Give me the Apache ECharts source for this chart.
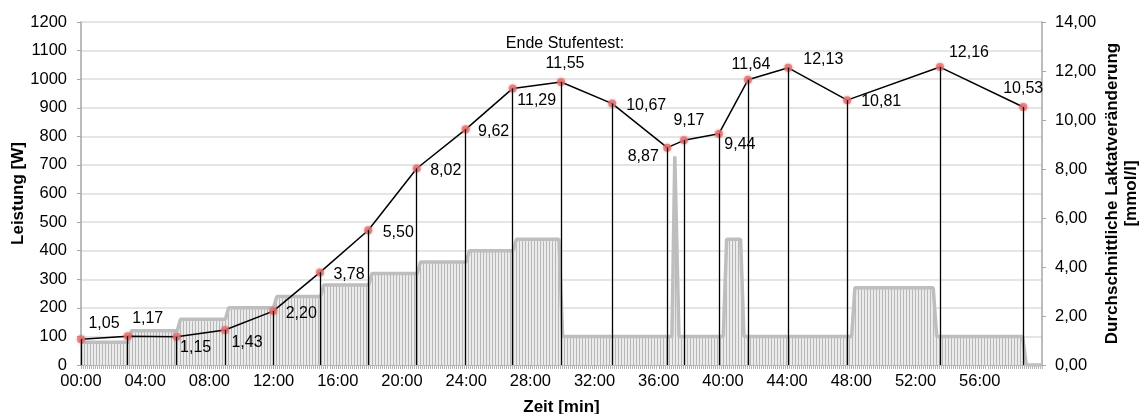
<!DOCTYPE html>
<html>
<head>
<meta charset="utf-8">
<script src="https://cdn.jsdelivr.net/npm/echarts@6/dist/echarts.min.js"></script>
<style>
  html, body { margin: 0; padding: 0; background: #fff; }
  #chart { width: 1141px; height: 414px; }
</style>
</head>
<body>
<div id="chart"></div>
<script>
// Power profile of the test (time in minutes, power in watts)
const powerMin = [0, 2.95, 3.15, 6.0, 6.2, 9.0, 9.2, 12.0, 12.2, 14.93, 15.13, 17.93, 18.13,
  20.95, 21.15, 24.0, 24.2, 26.93, 27.13, 29.78, 30.01, 36.82, 37.0, 37.1, 37.26,
  40.02, 40.23, 41.1, 41.31, 48.02, 48.22, 53.1, 53.32, 58.67, 58.9, 59.88];
const powerWatt = [80, 80, 120, 120, 160, 160, 200, 200, 240, 240, 280, 280, 320,
  320, 360, 360, 400, 400, 440, 440, 100, 100, 730, 730, 100,
  100, 440, 440, 100, 100, 270, 270, 100, 100, 0, 0];

// Lactate samples (time in minutes, mmol/l)
const lactateMin = [0, 2.91, 5.96, 8.97, 11.98, 14.89, 17.9, 20.92, 23.97, 26.9,
  29.91, 33.1, 36.53, 37.57, 39.75, 41.56, 44.07, 47.74, 53.52, 58.71];
const lactateValues = [1.05, 1.17, 1.15, 1.43, 2.20, 3.78, 5.50, 8.02, 9.62, 11.29,
  11.55, 10.67, 8.87, 9.17, 9.44, 11.64, 12.13, 10.81, 12.16, 10.53];

// Note shown above the sample that closes the step test
const stepTestEndIndex = 10;
const stepTestEndText = 'Ende Stufentest:';

// Label placement for each lactate sample (pixel offset from the point)
const labelOffsets = [
  [23, -16], [20, -18], [19, 11], [22, 13], [28, 2], [29, 2], [30, 2], [29, 2], [28, 2], [24, 12],
  [4, -28], [34, 2], [-24, 9], [5, -20], [21, 11], [3, -15], [35, -8], [34, 1], [29, -14], [0, -18]
];

const fmtComma = v => v.toFixed(2).replace('.', ',');
const fmtTime = v => {
  if (Math.abs(v % 4) > 1e-6) return '';
  const m = Math.round(v);
  return (m < 10 ? '0' : '') + m + ':00';
};

// vertical hatching used for the power area
const hatch = document.createElement('canvas');
hatch.width = 3; hatch.height = 4;
(function () {
  const c = hatch.getContext('2d');
  c.fillStyle = '#ebebeb'; c.fillRect(0, 0, 3, 4);
  c.fillStyle = '#b8b8b8'; c.fillRect(0, 0, 1, 4);
})();

const powerData = powerMin.map((t, i) => [t, powerWatt[i]]);
const lactateData = lactateMin.map((t, i) => ({
  value: [t, lactateValues[i]],
  label: { offset: labelOffsets[i] }
}));
const dropLines = lactateMin.map((t, i) => [
  { coord: [t, lactateValues[i]] },
  { coord: [t, 0] }
]);

const axisGrey = '#a6a6a6';
const font = 'Liberation Sans, Arial, Helvetica, sans-serif';

const chart = echarts.init(document.getElementById('chart'), null, { renderer: 'canvas' });
chart.setOption({
  animation: false,
  textStyle: { fontFamily: font },
  grid: { left: 81, right: 99, top: 22, bottom: 49, containLabel: false, outerBoundsMode: 'none' },
  xAxis: {
    type: 'value',
    min: 0,
    max: 59.88,
    interval: 4,
    name: 'Zeit [min]',
    nameLocation: 'middle',
    nameGap: 34,
    nameMoveOverlap: false,
    nameTextStyle: { fontFamily: font, fontWeight: 'bold', fontSize: 17, color: '#000' },
    axisLine: { show: true, lineStyle: { color: axisGrey, width: 1.5 } },
    axisTick: { show: true, length: 4, lineStyle: { color: axisGrey } },
    minorTick: { show: true, splitNumber: 32, length: 4, lineStyle: { color: '#b5b5b5' } },
    splitLine: { show: false },
    axisLabel: { formatter: fmtTime, fontSize: 16.5, color: '#000', margin: 8, fontFamily: font, showMaxLabel: false }
  },
  yAxis: [
    {
      type: 'value',
      min: 0,
      max: 1200,
      interval: 100,
      name: 'Leistung [W]',
      nameLocation: 'middle',
      nameRotate: 90,
      nameGap: 54,
      nameMoveOverlap: false,
      nameTextStyle: { fontFamily: font, fontWeight: 'bold', fontSize: 17, color: '#000' },
      axisLine: { show: true, lineStyle: { color: axisGrey, width: 1.5 } },
      axisTick: { show: true, length: 4, lineStyle: { color: axisGrey } },
      splitLine: { show: true, lineStyle: { color: '#dcdcdc', width: 1.5 } },
      axisLabel: { formatter: v => String(v), fontSize: 16.5, color: '#000', margin: 14, fontFamily: font }
    },
    {
      type: 'value',
      min: 0,
      max: 14,
      interval: 2,
      position: 'right',
      name: 'Durchschnittliche Laktatveränderung\n[mmol/l]',
      nameLocation: 'middle',
      nameRotate: 90,
      nameGap: 61,
      nameMoveOverlap: false,
      nameTextStyle: { fontFamily: font, fontWeight: 'bold', fontSize: 17, color: '#000', lineHeight: 19 },
      axisLine: { show: true, lineStyle: { color: axisGrey, width: 1.5 } },
      axisTick: { show: true, length: 4, lineStyle: { color: axisGrey } },
      splitLine: { show: false },
      axisLabel: { formatter: fmtComma, fontSize: 16.5, color: '#000', margin: 13, fontFamily: font }
    }
  ],
  series: [
    {
      name: 'Leistung',
      type: 'line',
      yAxisIndex: 0,
      data: powerData,
      symbol: 'none',
      silent: true,
      z: 1,
      lineStyle: { color: '#bebebe', width: 3.5 },
      areaStyle: { color: { image: hatch, repeat: 'repeat' }, opacity: 1 }
    },
    {
      name: 'Laktat',
      type: 'line',
      yAxisIndex: 1,
      data: lactateData,
      symbol: 'circle',
      symbolSize: 8,
      z: 3,
      lineStyle: { color: '#000', width: 1.5 },
      itemStyle: { color: 'rgba(228,112,112,0.8)', shadowBlur: 3, shadowColor: 'rgba(220,70,70,0.6)' },
      label: {
        show: true,
        position: 'inside',
        align: 'center',
        verticalAlign: 'middle',
        fontSize: 16,
        lineHeight: 20,
        color: '#000',
        fontFamily: font,
        formatter: p => {
          const v = fmtComma(p.value[1]);
          return p.dataIndex === stepTestEndIndex ? stepTestEndText + '\n' + v : v;
        }
      },
      markLine: {
        silent: true,
        symbol: ['none', 'none'],
        label: { show: false },
        lineStyle: { color: '#000', width: 1.3, type: 'solid' },
        emphasis: { disabled: true },
        data: dropLines
      }
    }
  ]
});
</script>
</body>
</html>
